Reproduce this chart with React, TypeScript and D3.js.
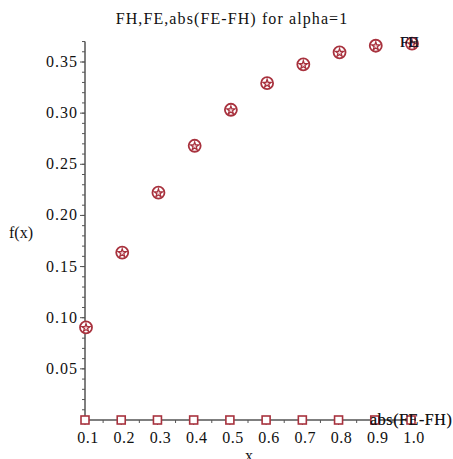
import React from 'react';
import * as d3 from 'd3';

// values
const xs = [0.1, 0.2, 0.3, 0.4, 0.5, 0.6, 0.7, 0.8, 0.9, 1.0];
const fh = [0.0905, 0.1637, 0.2222, 0.2681, 0.3033, 0.3293, 0.3476, 0.3595, 0.3659, 0.3679];
const fe = [0.0905, 0.1637, 0.2222, 0.2681, 0.3033, 0.3293, 0.3476, 0.3595, 0.3659, 0.3679];
const diff = [0, 0, 0, 0, 0, 0, 0, 0, 0, 0];
const xTicks = [0.1, 0.2, 0.3, 0.4, 0.5, 0.6, 0.7, 0.8, 0.9, 1.0];
const yTicks = [0.05, 0.1, 0.15, 0.2, 0.25, 0.3, 0.35];

const red = '#a8323e';
const font = '"Liberation Serif", "Times New Roman", serif';

export default function App() {
  const x = d3.scaleLinear().domain([0.1, 1.0]).range([85, 411]);
  const y = d3.scaleLinear().domain([0, 0.35]).range([420, 62]);

  const xMinor = d3.range(0.1, 1.0001, 0.05);
  const yMinor = d3.range(0, 0.3701, 0.01);
  const star = d3.symbol().type(d3.symbolStar).size(22)();

  return (
    <svg width={453} height={459} style={{ position: 'absolute', left: 0, top: 0 }} fontFamily={font}>
      <rect width={453} height={459} fill="#fff" />
      <text x={232} y={24} fontSize={16} letterSpacing={1.1} textAnchor="middle" fill="#111">
        FH,FE,abs(FE-FH) for alpha=1
      </text>

      {/* y axis */}
      <line x1={x(0.1)} x2={x(0.1)} y1={y(0.37)} y2={y(0) + 2} stroke="#555" strokeWidth={1.5} />
      {yMinor.map((v, i) => (
        <line key={'ym' + i} x1={x(0.1) - 3} x2={x(0.1)} y1={y(v)} y2={y(v)} stroke="#555" />
      ))}
      {yTicks.map(v => (
        <g key={'y' + v}>
          <line x1={x(0.1) - 5} x2={x(0.1)} y1={y(v)} y2={y(v)} stroke="#555" />
          <text x={x(0.1) - 7} y={y(v) + 5} fontSize={16} letterSpacing={1} textAnchor="end" fill="#111">
            {d3.format('.2f')(v)}
          </text>
        </g>
      ))}

      {/* x axis */}
      <line x1={x(0.1)} x2={x(1.0) + 3} y1={y(0)} y2={y(0)} stroke="#555" strokeWidth={1.5} />
      {xMinor.map((v, i) => (
        <line key={'xm' + i} x1={x(v)} x2={x(v)} y1={y(0)} y2={y(0) + 3} stroke="#555" />
      ))}
      {xTicks.map(v => (
        <g key={'x' + v}>
          <line x1={x(v)} x2={x(v)} y1={y(0)} y2={y(0) + 5} stroke="#555" />
          <text x={x(v) + 3} y={443} fontSize={16} letterSpacing={0.5} textAnchor="middle" fill="#111">
            {d3.format('.1f')(v)}
          </text>
        </g>
      ))}

      <text x={21} y={238} fontSize={16} textAnchor="middle" fill="#111">f(x)</text>
      <text x={249} y={461} fontSize={16} textAnchor="middle" fill="#111">x</text>

      {/* abs(FE-FH) squares */}
      {xs.map((v, i) => (
        <rect key={'d' + i} x={x(v) - 4} y={y(diff[i]) - 4} width={8} height={8}
          fill="#fff" stroke={red} strokeWidth={1.6} />
      ))}

      {/* FH circles */}
      {xs.map((v, i) => (
        <circle key={'h' + i} cx={x(v) + 1} cy={y(fh[i])} r={6} fill="#fff" stroke={red} strokeWidth={1.8} />
      ))}
      {/* FE stars */}
      {xs.map((v, i) => (
        <path key={'e' + i} d={star ?? ''} transform={`translate(${x(v) + 1},${y(fe[i]) + 0.5})`}
          fill="#f4d8dc" stroke={red} strokeWidth={1.2} />
      ))}

      <text x={400} y={47} fontSize={15} fill="#112">FH</text>
      <text x={400} y={47} fontSize={15} fill="#112">FE</text>
      <text x={370} y={425} fontSize={16} letterSpacing={0.6} fill="#111">abs(FE-FH)</text>
      <text x={370} y={425} fontSize={16} letterSpacing={0.6} fill="#111" opacity={0.6}>abs(FE-FH)</text>
    </svg>
  );
}
